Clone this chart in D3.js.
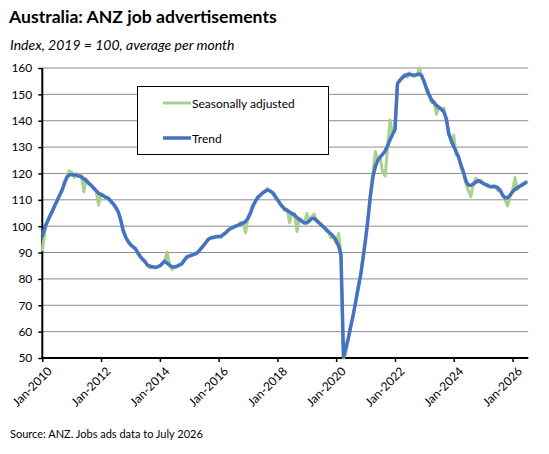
<!DOCTYPE html>
<html>
<head>
<meta charset="utf-8">
<script src="https://cdn.jsdelivr.net/npm/d3@7"></script>
<style>
  body { margin: 0; background: #fff; }
  svg { display: block; font-family: Lato, 'Liberation Sans', sans-serif; }
</style>
</head>
<body>
<svg id="chart" width="549" height="454"></svg>
<script>
// Monthly data, Jan-2010 .. Jul-2026 (one row per year)
const seasonallyAdjusted = [
  90.5, 98, 101, 104, 105, 108, 109, 112, 113, 117, 118, 121,
  120.5, 118.5, 120, 119, 119.5, 113, 118, 116, 115.5, 114.2, 113.5, 108,
  112.3, 111.8, 110.5, 111, 109, 108.3, 106.8, 105.5, 102, 98, 95.5, 94,
  93.3, 92, 91.8, 89.5, 88.8, 87, 86.8, 85, 84.2, 84.5, 84.2, 84.8,
  84.8, 85.9, 86.5, 90.2, 85.5, 83.6, 84.8, 84.5, 85.6, 85.5, 87.3, 88,
  89, 88.8, 89.8, 89.5, 90.8, 92, 92.5, 94.5, 95, 95.8, 95.5, 96.3,
  96.3, 95.8, 97.2, 97.3, 98.8, 99.5, 99.3, 100.2, 100.1, 101.5, 101.3, 97.5,
  103.5, 105.5, 108, 109, 111.2, 111.5, 112.8, 113.5, 114.3, 113, 112.5, 111,
  110.5, 108.3, 107.8, 106, 106.5, 101.3, 105, 104.8, 98, 103, 102.5, 101,
  104.8, 101.8, 103.5, 104.6, 101.8, 101.5, 100.3, 99.8, 98.2, 97.5, 95.5, 96,
  93.5, 97.3, 89, 50, 51.5, 58, 62.5, 66, 72, 77.5, 82, 88.5,
  96, 103.5, 111, 120, 128.3, 125.5, 126, 120.5, 119, 130, 140.3, 135,
  137, 154.5, 155, 156.8, 157.5, 156.5, 158.2, 157, 156.8, 157.3, 160, 156.5,
  155, 151, 149.5, 146.8, 147.5, 142.5, 145.5, 144, 144.8, 140, 135.5, 132,
  134.5, 127, 126.8, 122, 120, 116, 113.5, 111.2, 116, 118.2, 116.8, 117.5,
  116, 115.5, 115.8, 114.5, 115.5, 115.3, 113.5, 114, 111.5, 110, 107.7, 111,
  113.5, 118.5, 113.8, 115, 116.2, 116, 117.3
];

const trend = [
  96, 99.5, 101.5, 103.5, 105.5, 107.5, 109.5, 111.5, 113.5, 116, 118.5, 119.5,
  119.5, 119.5, 119.3, 119, 118.7, 118, 117.2, 116.3, 115.5, 114.5, 113.5, 112.5,
  112, 111.5, 111, 110.5, 109.5, 108.5, 107.2, 105.5, 102.5, 98.5, 96, 94.3,
  93, 92.2, 91.5, 90, 88.5, 87.5, 86.5, 85.2, 84.8, 84.6, 84.4, 84.5,
  85, 85.8, 86.8, 86, 85.2, 84.6, 84.5, 84.8, 85.2, 85.8, 87, 88.3,
  88.6, 89, 89.3, 89.7, 90.5, 91.7, 92.8, 94, 95.2, 95.6, 95.8, 96,
  96, 96.2, 96.8, 97.6, 98.5, 99.2, 99.6, 100, 100.4, 100.8, 101.2, 101.8,
  103, 105, 107.5, 109.5, 110.8, 111.8, 112.5, 113.2, 113.7, 113.4, 112.8, 111.5,
  110, 108.7, 107.5, 106.5, 106, 105.4, 104.7, 104.2, 103.3, 102.5, 101.8, 101.3,
  101.2, 102, 102.8, 103, 102.2, 101.3, 100.5, 99.6, 98.7, 97.8, 96.9, 96,
  94.5, 92.5, 89, 50.5, 54, 57.5, 62, 66.5, 71.5, 76.5, 81.5, 88,
  95, 103, 111.5, 118.5, 122.5, 125, 126.2, 127.3, 128.5, 130.5, 132.8, 134.8,
  136.5, 154, 155.3, 156.2, 157, 157.5, 157.6, 157.4, 157.3, 157.5, 157.7, 157,
  154.5, 152, 149.8, 147.9, 146.8, 145.8, 145, 144.4, 143.3, 140.8, 135, 132.5,
  130.2, 128.2, 126.2, 123.2, 120.5, 117.2, 115.6, 115.5, 116, 116.7, 117.3, 116.8,
  116.3, 115.8, 115.3, 115.1, 115, 115, 114.6, 113.5, 111.8, 110.8, 110.8, 111.8,
  113, 114, 114.6, 115.2, 115.6, 116.3, 116.9
];

const tickLabels = ['Jan-2010', 'Jan-2012', 'Jan-2014', 'Jan-2016', 'Jan-2018',
  'Jan-2020', 'Jan-2022', 'Jan-2024', 'Jan-2026'];
const yTicks = [50, 60, 70, 80, 90, 100, 110, 120, 130, 140, 150, 160];
const seriesNames = ['Seasonally adjusted', 'Trend'];
const seriesColors = ['#a9d18e', '#4472c4'];

const parseMonth = d3.timeParse('%b-%Y');
const months = d3.timeMonth.range(new Date(2010, 0, 1), new Date(2026, 7, 1));

const svg = d3.select('#chart');
const plot = {left: 42.3, right: 528.3, top: 68, bottom: 358};

const x = d3.scaleTime()
  .domain([new Date(2010, 0, 1), new Date(2026, 6, 16)])
  .range([plot.left, plot.right]);

const y = d3.scaleLinear()
  .domain([50, 160])
  .range([plot.bottom, plot.top]);

// Titles
svg.append('text')
  .attr('x', 9).attr('y', 23)
  .style('font-size', '17.6px').style('font-weight', 'bold')
  .text('Australia: ANZ job advertisements');

svg.append('text')
  .attr('x', 10).attr('y', 50)
  .style('font-size', '14px').style('font-style', 'italic')
  .text('Index, 2019 = 100,  average per month');

// Gridlines
svg.append('g')
  .selectAll('line')
  .data(yTicks.filter(d => d > 50))
  .enter().append('line')
  .attr('x1', plot.left).attr('x2', plot.right)
  .attr('y1', d => y(d)).attr('y2', d => y(d))
  .attr('stroke', '#8c8c8c').attr('stroke-width', 1);

// Y axis
const yAxis = svg.append('g')
  .attr('transform', `translate(${plot.left},0)`)
  .call(d3.axisLeft(y).tickValues(yTicks).tickSize(4).tickPadding(6));
yAxis.select('.domain').attr('stroke', '#000').attr('stroke-width', 2)
  .attr('d', `M0,${plot.bottom + 1}V${plot.top}`);
yAxis.selectAll('.tick line').attr('stroke', '#000').attr('stroke-width', 1.5);
yAxis.selectAll('.tick text').style('font-size', '12px').attr('fill', '#000')
  .style('font-family', 'Lato, sans-serif');

// X axis
const xAxis = svg.append('g')
  .attr('transform', `translate(0,${plot.bottom})`)
  .call(d3.axisBottom(x)
    .tickValues(tickLabels.map(parseMonth))
    .tickFormat(d3.timeFormat('%b-%Y'))
    .tickSize(4));
xAxis.select('.domain').attr('stroke', '#000').attr('stroke-width', 2.2)
  .attr('d', `M${plot.left - 1},0H${plot.right}`);
xAxis.selectAll('.tick line').attr('stroke', '#000').attr('stroke-width', 1.5);
xAxis.selectAll('.tick text')
  .style('font-size', '12px').attr('fill', '#000')
  .style('font-family', 'Lato, sans-serif')
  .attr('text-anchor', 'end')
  .attr('dy', null)
  .attr('transform', 'translate(5,9) rotate(-45)');

// Lines
const line = d3.line()
  .x((d, i) => x(months[i]))
  .y(d => y(d));

[seasonallyAdjusted, trend].forEach((series, k) => {
  svg.append('path')
    .datum(series)
    .attr('fill', 'none')
    .attr('stroke', seriesColors[k])
    .attr('stroke-width', k === 0 ? 3 : 3.5)
    .attr('stroke-linejoin', 'round')
    .attr('d', line);
});

// Legend
const legend = svg.append('g');
legend.append('rect')
  .attr('x', 137.5).attr('y', 86.5)
  .attr('width', 191).attr('height', 68)
  .attr('fill', '#fff').attr('stroke', '#000').attr('stroke-width', 1);

seriesNames.forEach((name, k) => {
  const ly = 103 + k * 35;
  legend.append('line')
    .attr('x1', 163).attr('x2', 191)
    .attr('y1', ly).attr('y2', ly)
    .attr('stroke', seriesColors[k]).attr('stroke-width', k === 0 ? 3 : 3.5);
  legend.append('text')
    .attr('x', 192).attr('y', ly + 4.5)
    .style('font-size', '12px')
    .text(name);
});

// Source
svg.append('text')
  .attr('x', 10).attr('y', 438)
  .style('font-size', '11px')
  .text('Source: ANZ. Jobs ads data to July 2026');
</script>
</body>
</html>
